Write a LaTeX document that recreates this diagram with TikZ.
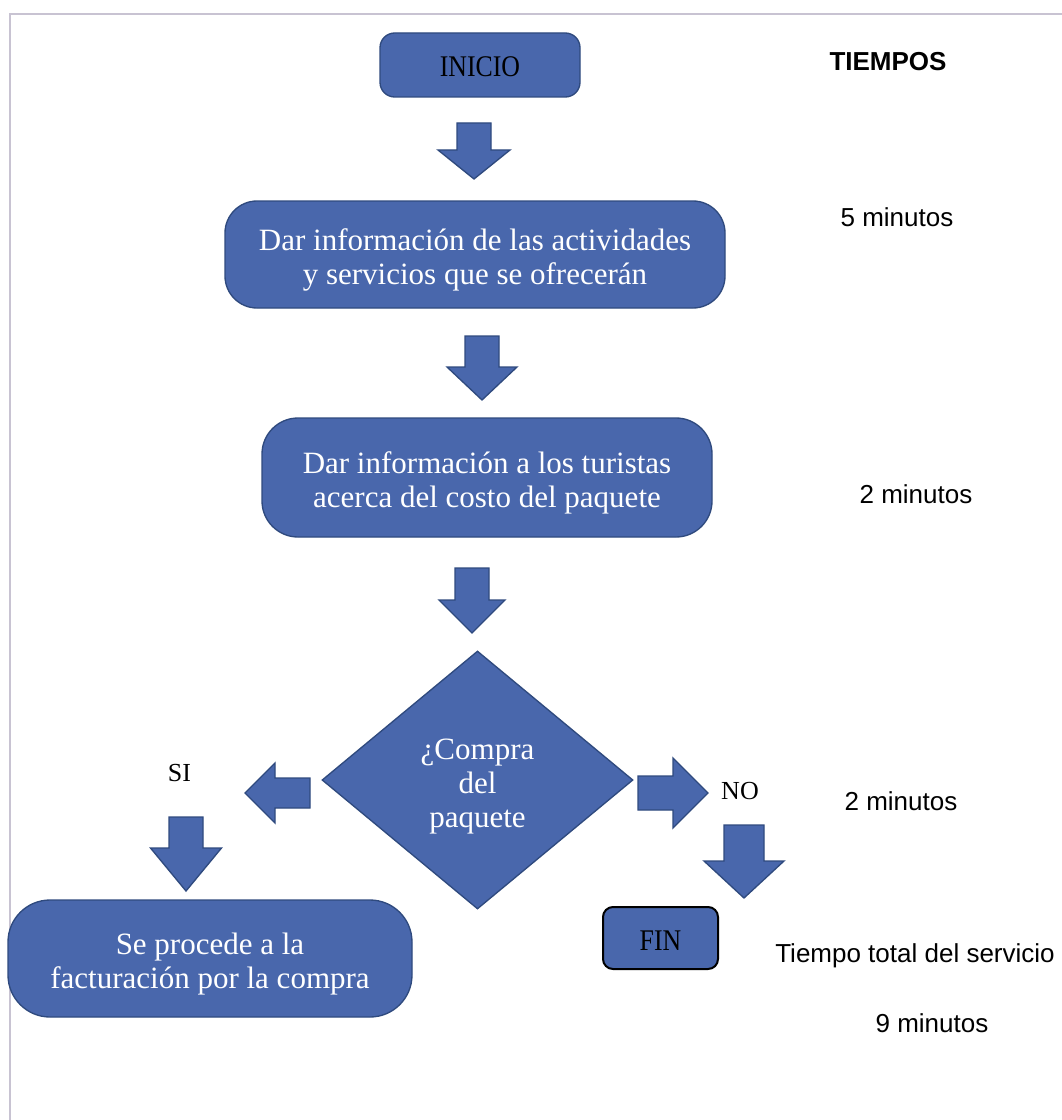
\documentclass[tikz,border=0pt]{standalone}
\usepackage{fontspec}
\usepackage{graphicx}
\setmainfont{Liberation Serif}
\newfontfamily\arialf{Liberation Sans}
\usetikzlibrary{shapes.geometric}
\definecolor{boxblue}{RGB}{73,103,172}
\definecolor{edgeblue}{RGB}{47,74,126}
\definecolor{framegray}{RGB}{200,195,210}
\newcommand\topstrut{\rule{0pt}{25pt}}
\newcommand\bdown[6]{% cx, shaft half width, top, head start, head half width, tip
  \path[blockarrow] ({#1-#2},#3) -- ({#1+#2},#3) -- ({#1+#2},#4) -- ({#1+#5},#4) -- (#1,#6) -- ({#1-#5},#4) -- ({#1-#2},#4) -- cycle;}
\newcommand\bhoriz[6]{% cy, shaft half width, start, head start, head half width, tip
  \path[blockarrow] (#3,{#1-#2}) -- (#4,{#1-#2}) -- (#4,{#1-#5}) -- (#6,#1) -- (#4,{#1+#5}) -- (#4,{#1+#2}) -- (#3,{#1+#2}) -- cycle;}
\begin{document}
\begin{tikzpicture}[x=0.75pt,y=-0.75pt,
  box/.style={draw=edgeblue,line width=1pt,fill=boxblue,text=white,align=center,inner sep=0pt,
    font=\fontsize{23.25}{25.5}\selectfont},
  termbox/.style={box,text=black,font=\fontsize{22.5}{24}\selectfont},
  blockarrow/.style={draw=edgeblue,line width=1pt,fill=boxblue,line join=miter},
  timetext/.style={font=\arialf\fontsize{19.5}{22}\selectfont,anchor=base,inner sep=0pt},
  lbl/.style={font=\fontsize{19.5}{22}\selectfont,anchor=base,inner sep=0pt}]
\useasboundingbox (0,0) rectangle (1062,1120);
\draw[framegray,line width=1.5pt] (10,1120) -- (10,14) -- (1062,14);

% boxes
\node[termbox,rounded corners=11pt,minimum width=150pt,minimum height=48pt] (inicio) at (480,65) {\rule{0pt}{18pt}\scalebox{0.86}[1]{INICIO}};
\node[box,rounded corners=24pt,minimum width=375pt,minimum height=80.25pt] (info1) at (475,254.5)
  {\topstrut Dar información de las actividades\\y servicios que se ofrecerán};
\node[box,rounded corners=27pt,minimum width=337.5pt,minimum height=89.25pt] (info2) at (487,477.5)
  {\topstrut Dar información a los turistas\\acerca del costo del paquete};
\node[box,diamond,minimum width=233.25pt,minimum height=193.5pt] (dec) at (477.5,780)
  {\topstrut ¿Compra\\del\\paquete};
\node[box,rounded corners=31.5pt,minimum width=303pt,minimum height=87.75pt] (fact) at (210,958.5)
  {\topstrut Se procede a la\\facturación por la compra};
\node[termbox,draw=black,line width=1.5pt,rounded corners=7.5pt,minimum width=86.25pt,minimum height=46.5pt] (fin) at (660.5,938)
  {\rule{0pt}{18pt}\scalebox{0.86}[1]{FIN}};

% block arrows
\bdown{474}{17}{123}{150}{36}{179}
\bdown{482}{17}{336}{367}{35}{400}
\bdown{472}{17}{568}{600}{33}{633}
\bdown{186}{17}{817}{848}{35.5}{891}
\bdown{744}{20}{825}{861}{40}{898}
\bhoriz{793}{15}{310}{275}{30}{245}
\bhoriz{793}{17}{638}{673}{35}{708}

% labels
\node[lbl] (si) at (179.5,781) {SI};
\node[lbl] (no) at (740,799) {NO};

% times column
\node[timetext,font=\arialf\bfseries\fontsize{19.5}{22}\selectfont] (tiempos) at (888,71) {TIEMPOS};
\node[timetext] (t1) at (897,226) {5 minutos};
\node[timetext] (t2) at (916,503) {2 minutos};
\node[timetext] (t3) at (901,810) {2 minutos};
\node[timetext] (ttot) at (915,962) {Tiempo total del servicio};
\node[timetext] (t4) at (932,1032) {9 minutos};
\end{tikzpicture}
\end{document}
